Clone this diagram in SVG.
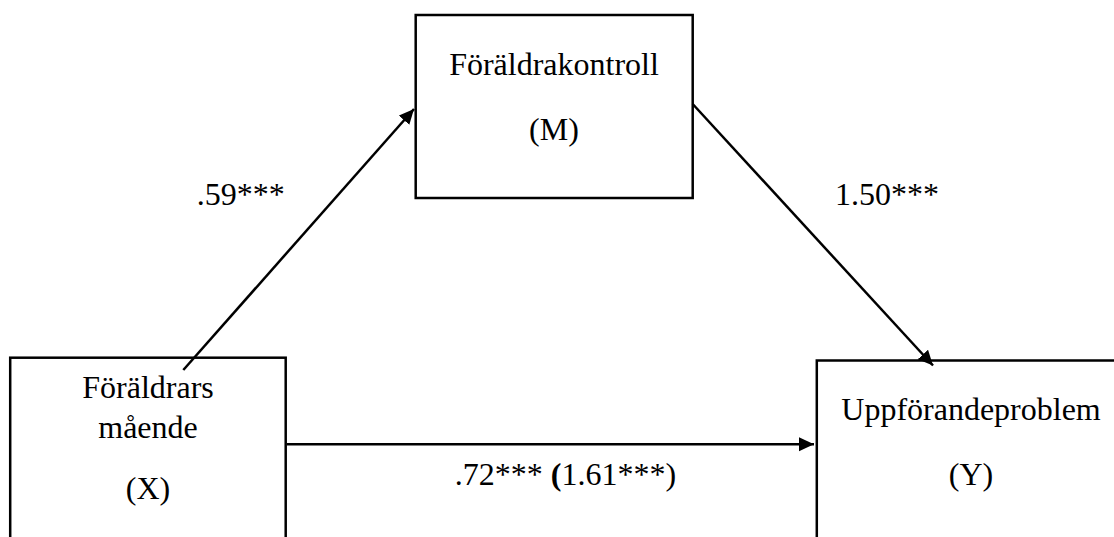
<svg xmlns="http://www.w3.org/2000/svg" width="1114" height="537" viewBox="0 0 1114 537">
  <style>
    .box { fill: #ffffff; stroke: #000000; stroke-width: 2.5; }
    .lbl { font-family: "Liberation Serif", "Times New Roman", serif; font-size: 32px; fill: #000000; }
    .mid { text-anchor: middle; }
    .conn { stroke: #000000; stroke-width: 2.5; fill: none; marker-end: url(#arrow); }
  </style>
  <defs>
    <marker id="arrow" markerUnits="userSpaceOnUse" markerWidth="16" markerHeight="15" refX="15" refY="7" orient="auto" viewBox="0 0 16 15">
      <path d="M0,0 L15,7 L0,14 z" fill="#000000"/>
    </marker>
  </defs>
  <rect width="1114" height="537" fill="#ffffff"/>

  <g id="node-M">
    <rect class="box" x="415.7" y="15" width="277" height="183"/>
    <text class="lbl mid" x="554" y="75">Föräldrakontroll</text>
    <text class="lbl mid" x="554" y="140">(M)</text>
  </g>

  <g id="node-X">
    <rect class="box" x="10.2" y="357.7" width="275.5" height="200"/>
    <text class="lbl mid" x="148" y="398">Föräldrars</text>
    <text class="lbl mid" x="148" y="438">mående</text>
    <text class="lbl mid" x="148" y="499">(X)</text>
  </g>

  <g id="node-Y">
    <rect class="box" x="816.8" y="360.5" width="320" height="200"/>
    <text class="lbl mid" x="971" y="420">Uppförandeproblem</text>
    <text class="lbl mid" x="971" y="485">(Y)</text>
  </g>

  <g id="connectors">
    <line class="conn" x1="183.3" y1="370" x2="414" y2="109"/>
    <line class="conn" x1="692.7" y1="104" x2="933" y2="365.5"/>
    <line class="conn" x1="287" y1="444.3" x2="814" y2="444.3"/>
    <text class="lbl" x="196.7" y="205">.59***</text>
    <text class="lbl" x="835" y="205">1.50***</text>
    <text class="lbl mid" x="565.5" y="485">.72*** <tspan font-weight="bold">(</tspan>1.61***)</text>
  </g>
</svg>
